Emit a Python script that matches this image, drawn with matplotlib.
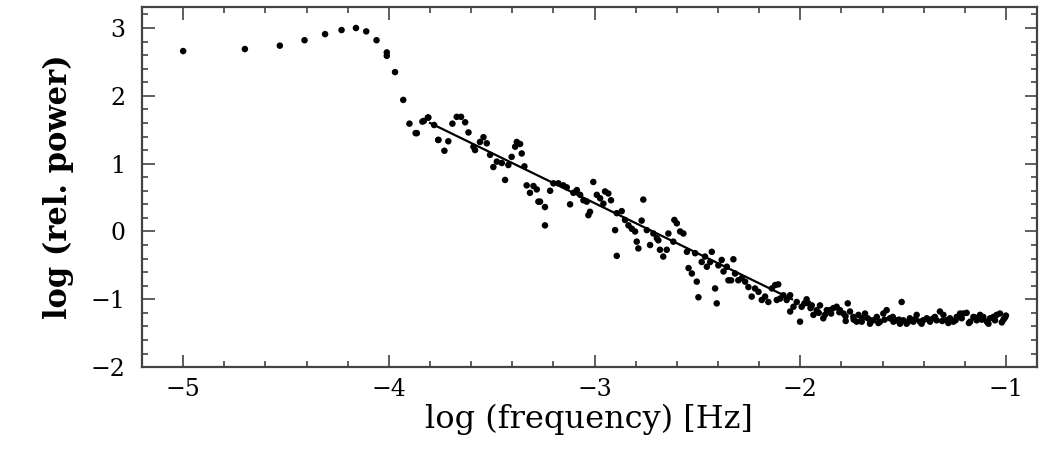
import matplotlib
matplotlib.use("Agg")
import matplotlib.pyplot as plt
from matplotlib.ticker import MultipleLocator

# log frequency [Hz]
log_freq = [
    -5.000, -4.700, -4.530, -4.410, -4.310, -4.230, -4.160, -4.110, -4.060, -4.010,
    -4.010, -3.970, -3.930, -3.900, -3.870, -3.830, -3.810, -3.780, -3.760,
    -3.864, -3.837, -3.808, -3.759, -3.730, -3.711, -3.691, -3.670, -3.649, -3.629,
    -3.613, -3.589, -3.581, -3.557, -3.540, -3.524, -3.508, -3.492, -3.475, -3.451,
    -3.435, -3.419, -3.403, -3.386, -3.378, -3.362, -3.354, -3.341, -3.330, -3.314,
    -3.297, -3.281, -3.273,
    -3.265, -3.241, -3.241, -3.216, -3.200, -3.176, -3.152, -3.135, -3.119, -3.103,
    -3.086, -3.070, -3.054, -3.038, -3.030, -3.022, -3.006, -2.989, -2.973, -2.957,
    -2.949, -2.933, -2.920, -2.900, -2.892, -2.868, -2.852, -2.835, -2.819, -2.803,
    -2.795, -2.787, -2.771, -2.763, -2.746, -2.730, -2.714, -2.892, -2.697,
    -2.690, -2.682, -2.666, -2.649, -2.641, -2.617, -2.612, -2.600, -2.584, -2.568,
    -2.551, -2.543, -2.527, -2.511, -2.503, -2.495, -2.479, -2.463, -2.454, -2.438,
    -2.430, -2.414, -2.406, -2.398, -2.382, -2.373, -2.357, -2.349, -2.336, -2.325,
    -2.317, -2.301, -2.285, -2.268, -2.252, -2.236, -2.220, -2.203, -2.187, -2.171,
    -2.155, -2.138, -2.122, -2.114,
    -2.107, -2.098, -2.082, -2.066, -2.049, -2.049, -2.033, -2.017, -2.001, -1.993,
    -1.969, -1.961, -1.944, -1.936, -1.920, -1.904, -1.888, -1.871, -1.855, -1.839,
    -1.823, -1.807, -1.790, -1.779, -1.769, -1.758, -1.742, -1.726, -1.717, -1.701,
    -1.685, -1.672, -1.661, -1.645, -1.628, -1.612, -1.596, -1.580, -1.564, -1.547,
    -1.531,
    -1.507, -1.515, -1.499, -1.483, -1.467, -1.450, -1.434, -1.418, -1.402, -1.385,
    -1.369, -1.353, -1.337, -1.321, -1.304, -1.288, -1.272, -1.256, -1.239, -1.223,
    -1.207, -1.191, -1.174, -1.158, -1.142, -1.126, -1.110, -1.093, -1.077, -1.061,
    -1.045, -1.029, -1.012, -1.000,
    -1.980, -1.950, -1.910, -1.880, -1.850, -1.810, -1.780, -1.740, -1.700, -1.660,
    -1.620, -1.590, -1.550, -1.520, -1.475, -1.440, -1.410, -1.375, -1.345, -1.310,
    -1.280, -1.245, -1.215, -1.180, -1.150, -1.118, -1.085, -1.053, -1.020, -1.005,
]
# log relative power
log_power = [
    2.66, 2.69, 2.74, 2.82, 2.91, 2.97, 3.00, 2.95, 2.82, 2.64,
    2.59, 2.35, 1.94, 1.59, 1.45, 1.63, 1.68, 1.57, 1.35,
    1.45, 1.62, 1.68, 1.35, 1.19, 1.33, 1.59, 1.69, 1.69, 1.61,
    1.46, 1.25, 1.20, 1.32, 1.39, 1.30, 1.13, 0.95, 1.03, 1.01,
    0.76, 0.98, 1.10, 1.25, 1.32, 1.29, 1.15, 0.96, 0.68, 0.57,
    0.67, 0.62, 0.44,
    0.44, 0.36, 0.09, 0.60, 0.71, 0.71, 0.68, 0.65, 0.40, 0.57,
    0.61, 0.54, 0.46, 0.44, 0.24, 0.29, 0.73, 0.54, 0.49, 0.41,
    0.59, 0.56, 0.46, 0.02, 0.27, 0.30, 0.17, 0.09, 0.04, 0.00,
    -0.15, -0.25, 0.16, 0.47, 0.02, -0.20, -0.03, -0.36, -0.10,
    -0.13, -0.27, -0.37, -0.27, -0.03, -0.15, 0.17, 0.12, 0.00, -0.03,
    -0.30, -0.54, -0.62, -0.32, -0.74, -0.97, -0.45, -0.37, -0.52, -0.45,
    -0.30, -0.84, -1.06, -0.50, -0.42, -0.59, -0.52, -0.72, -0.72, -0.41,
    -0.62, -0.72, -0.69, -0.74, -0.82, -0.96, -0.84, -0.89, -1.01, -0.96,
    -1.04, -0.84, -0.79, -1.01,
    -0.78, -0.99, -0.94, -1.01, -0.94, -1.18, -1.11, -1.04, -1.33, -1.11,
    -1.00, -1.06, -1.09, -1.23, -1.16, -1.09, -1.28, -1.16, -1.16, -1.13,
    -1.11, -1.16, -1.21, -1.32, -1.06, -1.18, -1.26, -1.33, -1.23, -1.33,
    -1.21, -1.28, -1.36, -1.31, -1.26, -1.33, -1.21, -1.16, -1.28, -1.33,
    -1.31,
    -1.04, -1.36, -1.31, -1.36, -1.28, -1.33, -1.23, -1.33, -1.31, -1.28,
    -1.33, -1.28, -1.31, -1.18, -1.23, -1.31, -1.28, -1.33, -1.26, -1.21,
    -1.21, -1.20, -1.33, -1.26, -1.31, -1.23, -1.26, -1.33, -1.28, -1.26,
    -1.23, -1.21, -1.30, -1.24,
    -1.06, -1.13, -1.20, -1.23, -1.21, -1.19, -1.25, -1.30, -1.28, -1.31,
    -1.35, -1.30, -1.26, -1.30, -1.33, -1.29, -1.36, -1.30, -1.26, -1.32,
    -1.35, -1.31, -1.28, -1.35, -1.27, -1.30, -1.36, -1.31, -1.34, -1.27,
]

# power-law fit line end points
fit_x = [-3.80, -2.04]
fit_y = [1.60, -1.00]

fig = plt.figure(figsize=(10.42, 4.51), dpi=100)
ax = fig.add_axes([0.1363, 0.186, 0.8587, 0.7985])

ax.scatter(log_freq, log_power, s=22, c="black", edgecolors="none", zorder=3)
ax.plot(fit_x, fit_y, color="black", linewidth=1.6, zorder=4)

ax.set_xlim(-5.2, -0.85)
ax.set_ylim(-2.0, 3.31)

ax.xaxis.set_major_locator(MultipleLocator(1))
ax.xaxis.set_minor_locator(MultipleLocator(0.2))
ax.yaxis.set_major_locator(MultipleLocator(1))
ax.yaxis.set_minor_locator(MultipleLocator(0.2))

spine_color = "#444444"
for sp in ax.spines.values():
    sp.set_linewidth(1.6)
    sp.set_color(spine_color)

ax.tick_params(which="both", direction="in", top=True, right=True,
               color=spine_color, width=1.2)
ax.tick_params(which="major", length=9, labelsize=17)
ax.tick_params(axis="x", which="major", pad=8)
ax.tick_params(axis="y", which="major", pad=12)
ax.tick_params(which="minor", length=4.5)

def fmt(v):
    return ("\u2212%d" % abs(v)) if v < 0 else "%d" % v

xt = [-5, -4, -3, -2, -1]
yt = [-2, -1, 0, 1, 2, 3]
ax.set_xticks(xt)
ax.set_xticklabels([fmt(v) for v in xt], family="DejaVu Serif")
ax.set_yticks(yt)
ax.set_yticklabels([fmt(v) for v in yt], family="DejaVu Serif")

ax.set_xlabel("log (frequency) [Hz]", family="DejaVu Serif", fontsize=23, labelpad=2)
ax.set_ylabel("log (rel. power)", family="DejaVu Serif", fontsize=22,
              fontweight="bold", labelpad=12)

fig.savefig("out.png", dpi=100)
